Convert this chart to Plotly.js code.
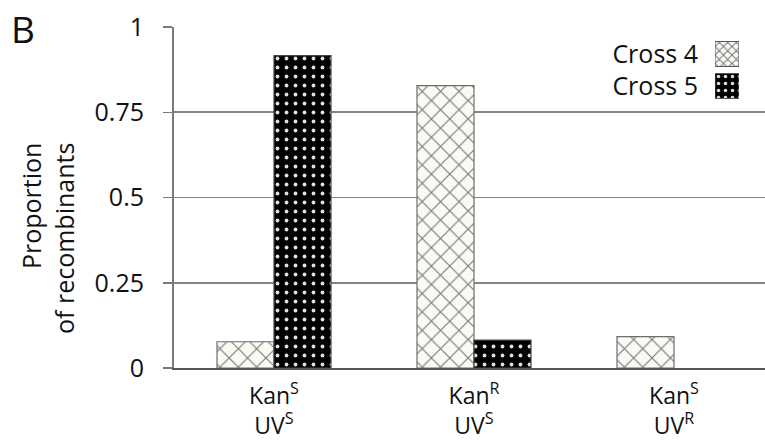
<!DOCTYPE html>
<html>
<head>
<meta charset="utf-8">
<script src="https://cdn.plot.ly/plotly-3.0.1.min.js"></script>
<style>html,body{margin:0;padding:0;background:#fff;}#chart{width:765px;height:440px;}</style>
</head>
<body>
<div id="chart"></div>
<script>
// ---- data ----
const categories = ["KanS_UVS", "KanR_UVS", "KanS_UVR"];
const tickLabels = ["Kan<sup>S</sup><br>UV<sup>S</sup>", "Kan<sup>R</sup><br>UV<sup>S</sup>", "Kan<sup>S</sup><br>UV<sup>R</sup>"];
const seriesNames = ["Cross 4", "Cross 5"];
const cross4 = [0.077, 0.828, 0.092];
const cross5 = [0.916, 0.082, 0];
const yTickVals = [0, 0.25, 0.5, 0.75, 1];
const yTickText = ["0", "0.25", "0.5", "0.75", "1"];
const swatchLength = [1];

const FONT = "Open Sans, Lato, sans-serif";
const BG4 = "#f7fbf3";
const pat4 = {shape: "x", fgcolor: "#777777", bgcolor: BG4, size: 13, solidity: 0.16, fillmode: "replace"};
const pat5 = {shape: ".", fgcolor: "#e0e0e0", bgcolor: "#000000", size: 9, solidity: 0.14, fillmode: "replace"};
const borderW = v => v.map(y => (y > 0 ? 1.2 : 0));

const traces = [
  {type: "bar", name: seriesNames[0], x: categories, y: cross4, showlegend: false,
   marker: {color: BG4, pattern: pat4, line: {color: "#6e6e6e", width: borderW(cross4)}}, hoverinfo: "y"},
  {type: "bar", name: seriesNames[1], x: categories, y: cross5, showlegend: false,
   marker: {color: "#000000", pattern: pat5, line: {color: "#444", width: borderW(cross5)}}, hoverinfo: "y"},
  // legend swatches drawn as an inset bar chart (one trace per series)
  {type: "bar", orientation: "h", x: swatchLength, y: [seriesNames[0]], xaxis: "x2", yaxis: "y2",
   width: 0.78, offset: -0.39, showlegend: false, hoverinfo: "skip",
   marker: {color: BG4, pattern: {shape: "x", fgcolor: "#777777", bgcolor: BG4, size: 6, solidity: 0.3, fillmode: "replace"},
            line: {color: "#555", width: 1}}},
  {type: "bar", orientation: "h", x: swatchLength, y: [seriesNames[1]], xaxis: "x2", yaxis: "y2",
   width: 0.78, offset: -0.39, showlegend: false, hoverinfo: "skip",
   marker: {color: "#000000", pattern: {shape: ".", fgcolor: "#e0e0e0", bgcolor: "#000000", size: 7, solidity: 0.2, fillmode: "replace"},
            line: {color: "#555", width: 1}}}
];

const H = 341;
const layout = {
  width: 765, height: 440,
  margin: {l: 174, r: 0, t: 27, b: 72},
  paper_bgcolor: "#fff", plot_bgcolor: "#fff",
  font: {family: FONT, size: 25, color: "#111"},
  barmode: "group", bargap: 0.43, bargroupgap: 0,
  showlegend: false,
  xaxis: {
    type: "category", categoryorder: "array", categoryarray: categories,
    range: [-0.5, 2.455], tickvals: categories, ticktext: tickLabels,
    showgrid: false, zeroline: false, showline: true, linecolor: "#555", linewidth: 2,
    ticks: "", ticklabelstandoff: 6, tickfont: {family: FONT, size: 23, color: "#111"}, fixedrange: true
  },
  yaxis: {
    range: [0, 1], tickvals: yTickVals, ticktext: yTickText,
    showgrid: true, gridcolor: "#858585", gridwidth: 1.6,
    zeroline: false, showline: true, linecolor: "#7a7a7a", linewidth: 2,
    ticks: "outside", ticklen: 9, tickcolor: "#7a7a7a", tickwidth: 1.5,
    ticklabelstandoff: 14, tickfont: {family: FONT, size: 25, color: "#111"}, fixedrange: true
  },
  xaxis2: {domain: [(715 - 174) / 591, (739 - 174) / 591], range: [0, 1], anchor: "y2",
           showgrid: false, zeroline: false, showline: false, showticklabels: false, ticks: "", fixedrange: true},
  yaxis2: {domain: [(368 - 102) / H, (368 - 38) / H], anchor: "x2", type: "category",
           categoryorder: "array", categoryarray: seriesNames, autorange: "reversed",
           showgrid: false, zeroline: false, showline: false, ticks: "",
           ticklabelstandoff: 16, tickfont: {family: FONT, size: 25, color: "#111"}, fixedrange: true},
  annotations: [
    {text: "Proportion<br>of recombinants", textangle: -90, align: "right",
     xref: "paper", yref: "paper", x: (47 - 174) / 591, y: (368 - 239) / H,
     xanchor: "center", yanchor: "middle", showarrow: false,
     font: {family: FONT, size: 25, color: "#111"}},
    {text: "B", xref: "paper", yref: "paper", x: (23 - 174) / 591, y: (368 - 28) / H,
     xanchor: "center", yanchor: "middle", showarrow: false,
     font: {family: FONT, size: 37, color: "#111"}}
  ]
};

Plotly.newPlot("chart", traces, layout, {displayModeBar: false, staticPlot: true});
</script>
</body>
</html>
